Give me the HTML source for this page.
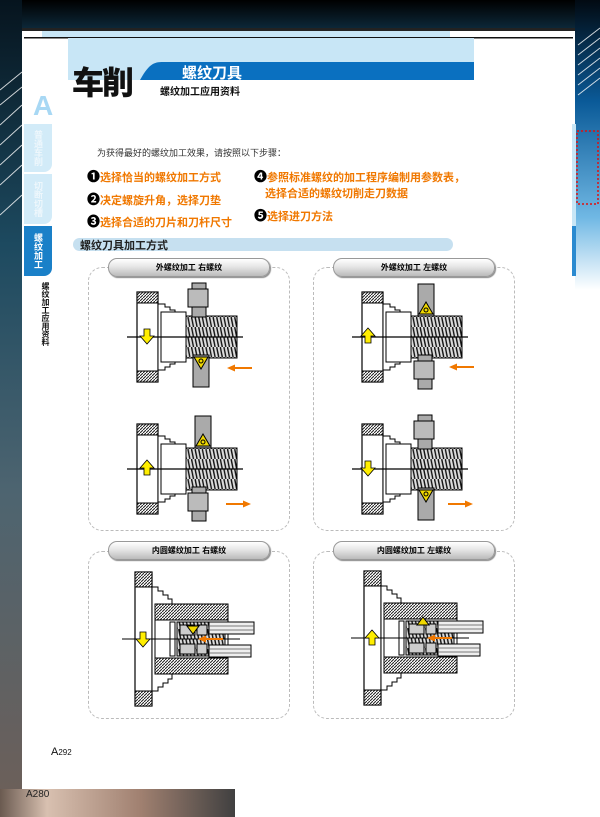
<!DOCTYPE html>
<html><head><meta charset="utf-8">
<style>
body{margin:0;width:600px;height:817px;position:relative;overflow:hidden;background:#fff;font-family:"Liberation Sans","Noto Sans CJK SC",sans-serif}
.a{position:absolute;white-space:nowrap}
.or{color:#f07800;font-weight:bold;font-size:11px}
.num{color:#000;font-size:13px}
.pill{position:absolute;height:17px;border:1px solid #999;border-radius:9px;background:linear-gradient(#fff,#e6e6e6 45%,#bbb);font-size:8px;font-weight:bold;text-align:center;line-height:17px;box-shadow:1px 1px 1px #888}
.panel{position:absolute;border:1px dashed #bbb;border-radius:14px}
.tab{position:absolute;left:24px;width:28px;border-radius:0 0 8px 0;color:#fff;font-size:9px;font-weight:bold;writing-mode:vertical-rl;text-align:center;line-height:28px}
</style></head><body>
<svg width="600" height="817" style="position:absolute;left:0;top:0">
<defs>
<linearGradient id="lg" x1="0" y1="0" x2="0" y2="1"><stop offset="0" stop-color="#06141e"/><stop offset="0.3" stop-color="#1d4a60"/><stop offset="0.6" stop-color="#4d6470"/><stop offset="1" stop-color="#6e5f58"/></linearGradient>
<linearGradient id="rg" x1="0" y1="0" x2="0" y2="1"><stop offset="0" stop-color="#020a12"/><stop offset="0.35" stop-color="#0a5a98"/><stop offset="0.75" stop-color="#70b8e4"/><stop offset="1" stop-color="#fff"/></linearGradient>
<linearGradient id="tg" x1="0" y1="0" x2="0" y2="1"><stop offset="0" stop-color="#000"/><stop offset="1" stop-color="#0d2a3c"/></linearGradient>
<linearGradient id="bg" x1="0" y1="0" x2="1" y2="0"><stop offset="0" stop-color="#6a5a50"/><stop offset="0.2" stop-color="#d8c0b0"/><stop offset="0.6" stop-color="#a08070"/><stop offset="1" stop-color="#404040"/></linearGradient>
<pattern id="hatch" patternUnits="userSpaceOnUse" width="3" height="3"><rect width="3" height="3" fill="#fff"/><path d="M0,3 L3,0" stroke="#222" stroke-width="1"/></pattern>
<pattern id="thr" patternUnits="userSpaceOnUse" width="3.6" height="10"><rect width="3.6" height="10" fill="#ddd"/><path d="M0.5,0 L2.5,10" stroke="#111" stroke-width="1.4"/></pattern>
<g id="ext">
<rect x="0" y="-45" width="21" height="90" fill="#fff" stroke="#000" stroke-width="1.2"/>
<rect x="0" y="-45" width="21" height="11" fill="url(#hatch)" stroke="#000"/>
<rect x="0" y="34" width="21" height="11" fill="url(#hatch)" stroke="#000"/>
<path d="M21,-33 H28 V-30 H33 V-27 H38 V-24 H48 V24 H38 V27 H33 V30 H28 V33 H21Z" fill="#fff" stroke="#000"/>
<rect x="24" y="-25" width="25" height="50" fill="#fff" stroke="#000"/>
<rect x="49" y="-21" width="51" height="42" fill="url(#thr)" stroke="#000"/>
<line x1="-10" y1="0" x2="106" y2="0" stroke="#000" stroke-width="1.2"/>
</g>
<g id="hold"><rect x="0" y="0" width="14" height="34" fill="#aaa" stroke="#000"/><rect x="-4" y="6" width="20" height="18" fill="#bbb" stroke="#000"/></g>
<g id="ins"><rect x="0" y="0" width="16" height="32" fill="#aaa" stroke="#000"/><path d="M1,2 L15,2 L8,14Z" fill="#f0d800" stroke="#000"/><circle cx="8" cy="6" r="2" fill="none" stroke="#000"/></g>
<g id="yd"><path d="M-3,-7 H3 V0 H7 L0,8 L-7,0 H-3Z" fill="#ffee00" stroke="#000" stroke-width="0.8"/></g>
<g id="ol"><line x1="4" y1="0" x2="25" y2="0" stroke="#f07800" stroke-width="2"/><path d="M0,0 L8,-3.5 L8,3.5Z" fill="#f07800"/></g>
<g id="int">
<rect x="0" y="-67" width="17" height="134" fill="#fff" stroke="#000" stroke-width="1.2"/>
<rect x="0" y="-67" width="17" height="15" fill="url(#hatch)" stroke="#000"/>
<rect x="0" y="52" width="17" height="15" fill="url(#hatch)" stroke="#000"/>
<path d="M17,-52 H23 V-48 H28 V-44 H33 V-40 H37 V40 H33 V44 H28 V48 H23 V52 H17Z" fill="#fff" stroke="#000"/>
<rect x="20" y="-35" width="73" height="70" fill="url(#hatch)" stroke="#000"/>
<rect x="20" y="-19" width="73" height="38" fill="#fff" stroke="#000"/>
<rect x="35" y="-17" width="5" height="34" fill="#fff" stroke="#000"/>
<rect x="42" y="-17" width="48" height="34" fill="url(#thr)" stroke="#000"/>
<g fill="#ccc" stroke="#000"><rect x="45" y="-14" width="15" height="10"/><rect x="62" y="-14" width="10" height="10"/><rect x="45" y="5" width="15" height="10"/><rect x="62" y="5" width="10" height="10"/></g>
<g stroke="#000" fill="#eee"><rect x="74" y="-17" width="45" height="12"/><rect x="74" y="6" width="42" height="12"/></g>
<g stroke="#555" stroke-width="0.8"><line x1="74" y1="-13" x2="119" y2="-13"/><line x1="74" y1="-9" x2="119" y2="-9"/><line x1="74" y1="10" x2="116" y2="10"/><line x1="74" y1="14" x2="116" y2="14"/></g>
<line x1="-13" y1="0" x2="105" y2="0" stroke="#000"/>
</g>
</defs>
<rect x="0" y="0" width="600" height="30" fill="url(#tg)"/>
<rect x="0" y="0" width="22" height="817" fill="url(#lg)"/>
<rect x="575" y="0" width="25" height="290" fill="url(#rg)"/>
<g stroke="#fff" stroke-width="1" opacity="0.8"><path d="M0,90 L22,72 M0,105 L22,87 M0,125 L22,105 M0,145 L22,125 M0,165 L22,145 M0,185 L22,165 M0,215 L22,195 M578,45 L600,28 M578,55 L600,38 M578,65 L600,48 M578,75 L600,58 M578,85 L600,68 M578,95 L600,78"/></g>
<rect x="0" y="789" width="235" height="28" fill="url(#bg)"/>
<rect x="22" y="28" width="553" height="761" fill="#fff"/>
<rect x="22" y="28" width="553" height="3" fill="#222"/>
<rect x="42" y="31" width="408" height="6" fill="#c8e6f6"/>
<rect x="24" y="37" width="549" height="1.5" fill="#111"/>
<rect x="68" y="38" width="406" height="42" fill="#c8e6f6"/>
<path d="M140,80 C150,62 155,62 165,62 H474 V80Z" fill="#0a70c0"/>
<rect x="68" y="80" width="410" height="20" fill="#fff"/>
<rect x="572" y="124" width="4" height="152" fill="#c8e6f6"/><rect x="572" y="226" width="4" height="50" fill="#2a8ad0"/>
<rect x="577" y="131" width="21" height="73" fill="none" stroke="#e01010" stroke-width="1.5" stroke-dasharray="2,2"/>
<rect x="73" y="238" width="380" height="13" rx="6.5" fill="#c6e0f0"/>
<use href="#ext" x="137" y="337"/><use href="#hold" x="192" y="283"/><use href="#ins" x="193" y="355"/><use href="#yd" x="147" y="336"/><use href="#ol" x="227" y="368"/>
<use href="#ext" x="137" y="469"/><use href="#ins" x="195" y="416" transform="rotate(180 203 432)"/><use href="#hold" x="192" y="487"/><use href="#yd" x="147" y="468" transform="rotate(180 147 468)"/><use href="#ol" x="227" y="504" transform="rotate(180 239 504)"/>
<use href="#ext" x="362" y="337"/><use href="#ins" x="418" y="284" transform="rotate(180 426 300)"/><use href="#hold" x="418" y="355"/><use href="#yd" x="368" y="336" transform="rotate(180 368 336)"/><use href="#ol" x="449" y="367"/>
<use href="#ext" x="362" y="469"/><use href="#hold" x="418" y="415"/><use href="#ins" x="418" y="488"/><use href="#yd" x="368" y="468"/><use href="#ol" x="449" y="504" transform="rotate(180 461 504)"/>
<use href="#int" x="135" y="639"/><use href="#yd" x="143" y="639"/><use href="#ol" x="198" y="639"/>
<path d="M187,626 L199,626 L193,634Z" fill="#f0d800" stroke="#000"/>
<use href="#int" x="364" y="638"/><use href="#yd" x="372" y="638" transform="rotate(180 372 638)"/><use href="#ol" x="427" y="638"/>
<path d="M417,625 L429,625 L423,617Z" fill="#f0d800" stroke="#000"/>
</svg>
<div class="a" style="left:72px;top:58px;font-size:32px;font-weight:900;color:#111;letter-spacing:-2px">车削</div>
<div class="a" style="left:182px;top:62px;font-size:15px;font-weight:bold;color:#fff">螺纹刀具</div>
<div class="a" style="left:160px;top:83px;font-size:10px;font-weight:bold;color:#111">螺纹加工应用资料</div>
<div class="a" style="left:33px;top:90px;font-size:28px;font-weight:bold;color:#a8d8f4">A</div>
<div class="tab" style="top:124px;height:48px;background:#d2ebf8;color:#eef7fc">普通车削</div>
<div class="tab" style="top:174px;height:50px;background:#d2ebf8;color:#eef7fc">切断切槽</div>
<div class="tab" style="top:226px;height:50px;background:#1a80c8">螺纹加工</div>
<div class="a" style="left:40px;top:282px;font-size:8px;font-weight:bold;writing-mode:vertical-rl;color:#111">螺纹加工应用资料</div>
<div class="a" style="left:97px;top:146px;font-size:9px;color:#333">为获得最好的螺纹加工效果，请按照以下步骤：</div>
<div class="a or" style="left:87px;top:166px"><span class="num">❶</span>选择恰当的螺纹加工方式</div>
<div class="a or" style="left:87px;top:189px"><span class="num">❷</span>决定螺旋升角，选择刀垫</div>
<div class="a or" style="left:87px;top:211px"><span class="num">❸</span>选择合适的刀片和刀杆尺寸</div>
<div class="a or" style="left:254px;top:166px"><span class="num">❹</span>参照标准螺纹的加工程序编制用参数表，</div>
<div class="a or" style="left:265px;top:185px">选择合适的螺纹切削走刀数据</div>
<div class="a or" style="left:254px;top:205px"><span class="num">❺</span>选择进刀方法</div>
<div class="a" style="left:80px;top:237px;font-size:11px;font-weight:bold;color:#222">螺纹刀具加工方式</div>
<div class="panel" style="left:88px;top:267px;width:200px;height:262px"></div>
<div class="panel" style="left:313px;top:267px;width:200px;height:262px"></div>
<div class="panel" style="left:88px;top:551px;width:200px;height:166px"></div>
<div class="panel" style="left:313px;top:551px;width:200px;height:166px"></div>
<div class="pill" style="left:108px;top:258px;width:160px">外螺纹加工 右螺纹</div>
<div class="pill" style="left:333px;top:258px;width:160px">外螺纹加工 左螺纹</div>
<div class="pill" style="left:108px;top:541px;width:160px">内圆螺纹加工 右螺纹</div>
<div class="pill" style="left:333px;top:541px;width:160px">内圆螺纹加工 左螺纹</div>
<div class="a" style="left:51px;top:746px;font-size:11px;color:#111">A<span style="font-size:8px">292</span></div>
<div class="a" style="left:26px;top:789px;font-size:10px;color:#222">A280</div>
</body></html>
